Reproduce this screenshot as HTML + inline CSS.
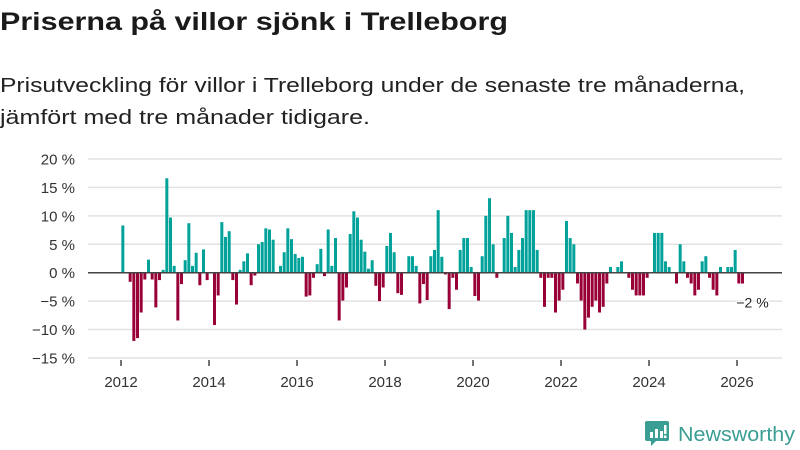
<!DOCTYPE html>
<html><head><meta charset="utf-8"><style>
html,body{margin:0;padding:0;background:#fff;}
svg{display:block;font-family:"Liberation Sans",sans-serif;}
</style></head><body>
<svg id="chart" width="800" height="450" viewBox="0 0 800 450" xmlns="http://www.w3.org/2000/svg">
<text x="0" y="30" font-size="25" font-weight="bold" fill="#1a1a1a" textLength="508" lengthAdjust="spacingAndGlyphs">Priserna på villor sjönk i Trelleborg</text>
<text x="0" y="92" font-size="20" fill="#222" textLength="745" lengthAdjust="spacingAndGlyphs">Prisutveckling för villor i Trelleborg under de senaste tre månaderna,</text>
<text x="0" y="124" font-size="20" fill="#222" textLength="370" lengthAdjust="spacingAndGlyphs">jämfört med tre månader tidigare.</text>
<g id="grid"></g>
<g id="bars"></g>
<g id="axes"></g>
<g>
<path d="M647 421 h20 a2 2 0 0 1 2 2 v16 a2 2 0 0 1 -2 2 h-11 l-5 5 v-5 h-4 a2 2 0 0 1 -2 -2 v-16 a2 2 0 0 1 2 -2z" fill="#3a9e94"/>
<rect x="650" y="432" width="3" height="6" fill="#fff"/>
<rect x="655" y="429" width="3" height="9" fill="#fff"/>
<rect x="660" y="431" width="3" height="7" fill="#fff"/>
<rect x="664" y="425" width="2.5" height="9" fill="#fff"/>
<rect x="664" y="435.5" width="2.5" height="2.5" fill="#fff"/>
<text x="678" y="441" font-size="20" fill="#3a9e94" textLength="117" lengthAdjust="spacingAndGlyphs">Newsworthy</text>
</g>
</svg>
<script>
const values = [8.3,0,-1.6,-12,-11.5,-7,-1.2,2.3,-1.2,-6.1,-1.3,0.5,16.6,9.7,1.2,-8.4,-2,2.2,8.7,1.2,3.5,-2.2,4.1,-1.3,0,-9.2,-4,8.9,6.3,7.3,-1.3,-5.6,0.5,2,3.4,-2.2,-0.5,5,5.4,7.8,7.6,5.8,0,1.2,3.6,7.8,5.9,3.3,2.6,2.8,-4.2,-4,-0.9,1.5,4.2,-0.6,7.6,1.2,6.1,-8.4,-4.9,-2.6,6.8,10.8,9.7,5.8,3.7,0.7,2.2,-2.3,-5,-2.6,4.7,7,3.6,-3.6,-3.9,0,2.9,2.9,1.2,-5.4,-2,-4.8,2.9,4,11,2.8,-0.3,-6.4,-0.9,-3,4,6.1,6.1,1,-4.1,-4.9,2.9,10,13.1,5,-0.9,0,6.1,10,7,1,4,6.1,11,11,11,4,-0.9,-6,-0.9,-0.9,-7,-4.9,-3,9.1,6.1,5,-1.9,-4.9,-10,-7.9,-6,-4.9,-7,-6,-1.9,1,0,1,2,0,-0.9,-3,-4,-4,-4,-0.9,0,7,7,7,2,1,0,-1.9,5,2,-0.9,-1.9,-4,-3,2,2.9,-0.9,-3,-4,1,0,1,1,4,-1.9,-1.9];
const startYear = 2012;
const yTicks = [20,15,10,5,0,-5,-10,-15];
const yTickLabels = ["20 %","15 %","10 %","5 %","0 %","−5 %","−10 %","−15 %"];
const xTicks = [2012,2014,2016,2018,2020,2022,2024,2026];
const lastLabel = "−2 %";

const NS="http://www.w3.org/2000/svg";
const y = v => 272.7 - v*5.686;
const xTime = t => 121 + (t-2012)*44;
const xMonth = i => xTime(startYear + (i+0.5)/12);
function mk(tag, attrs, parent){const e=document.createElementNS(NS,tag);for(const k in attrs)e.setAttribute(k,attrs[k]);parent.appendChild(e);return e;}
const grid=document.getElementById('grid'), bars=document.getElementById('bars'), axes=document.getElementById('axes');
yTicks.forEach((v,i)=>{
  if(v!==0){const l=mk('line',{x1:88,x2:782,y1:y(v),y2:y(v),stroke:'#e2e2e2','stroke-width':1.5},grid);
  
  }
  const t=mk('text',{x:75,y:y(v)+5.5,'text-anchor':'end','font-size':15,fill:'#333'},axes);
  t.textContent=yTickLabels[i];
  
  
});
values.forEach((v,i)=>{
  if(v===0) return;
  const r=mk('rect',{x:xMonth(i)-1.5,width:3,y:Math.min(y(v),y(0)),height:Math.abs(y(v)-y(0)),fill:v>0?'#00a29a':'#990038'},bars);
  
  
});
const base=mk('line',{x1:88,x2:782,y1:y(0),y2:y(0),stroke:'#444','stroke-width':1.5},axes);


xTicks.forEach(yr=>{
  const tk=mk('line',{x1:xTime(yr),x2:xTime(yr),y1:360,y2:366,stroke:'#444','stroke-width':1.5},axes);
  
  
  const t=mk('text',{x:xTime(yr),y:387,'text-anchor':'middle','font-size':15,fill:'#333'},axes);
  t.textContent=yr;
  
  
});
const last=values[values.length-1];
const lbl=mk('text',{x:xMonth(values.length-1)+10,y:y(last)+24,'text-anchor':'middle','font-size':14,fill:'#222',stroke:'#fff','stroke-width':3,'paint-order':'stroke'},axes);
lbl.textContent=lastLabel;


</script>
</body></html>
